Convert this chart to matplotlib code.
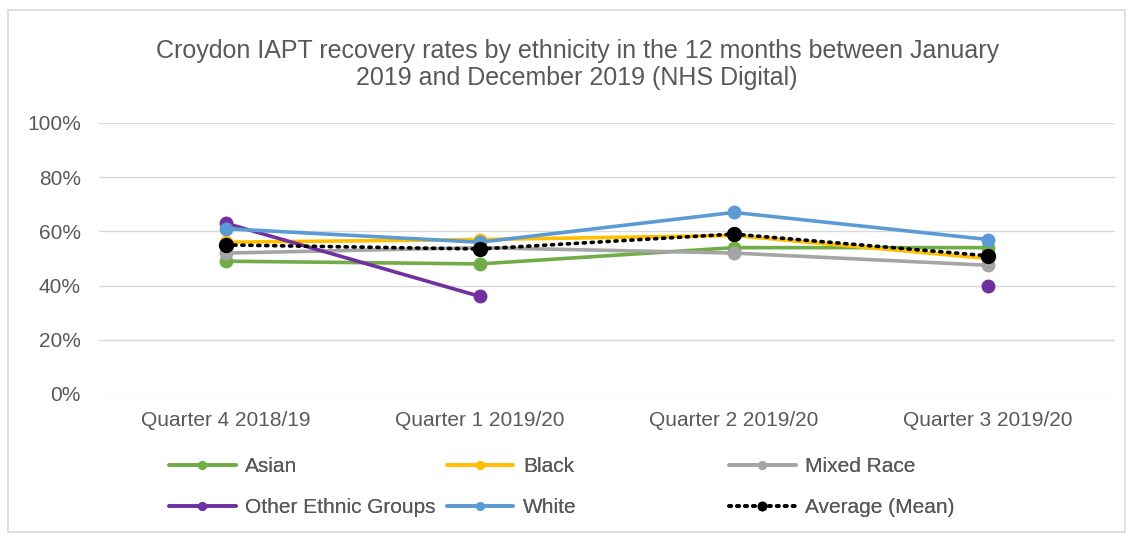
"""Croydon IAPT recovery rates by ethnicity, Jan-Dec 2019."""

import numpy as np
import matplotlib.pyplot as plt
from matplotlib.patches import Rectangle
from matplotlib.ticker import PercentFormatter

quarters = ["Quarter 4 2018/19", "Quarter 1 2019/20", "Quarter 2 2019/20", "Quarter 3 2019/20"]

asian = [49, 48, 54, 54]
black = [56, 57, 58.5, 50]
mixed_race = [52, 54, 52, 47.5]
other_ethnic = [63, 36, np.nan, 40]
white = [61, 56, 67, 57]
average = [55, 53.5, 59, 51]

GREY_TEXT = "#595959"
GRID = "#D9D9D9"


def main() -> None:
    plt.rcParams["font.family"] = ["Liberation Sans", "DejaVu Sans"]
    fig = plt.figure(figsize=(11.34, 5.37), dpi=100)
    ax = fig.add_axes([0.0873, 0.2663, 0.8957, 0.5047])

    x = np.arange(len(quarters))
    series = [
        ("Asian", asian, "#70AD47"),
        ("Black", black, "#FFC000"),
        ("Mixed Race", mixed_race, "#A5A5A5"),
        ("Other Ethnic Groups", other_ethnic, "#7030A0"),
        ("White", white, "#5B9BD5"),
    ]
    handles = {}
    for name, vals, col in series:
        (ln,) = ax.plot(x, np.array(vals) / 100, color=col, lw=2.6, marker="o",
                        ms=9, solid_capstyle="round")
        handles[name] = ln
    (avg,) = ax.plot(x, np.array(average) / 100, color="black", lw=2.6,
                     ls=(0, (0.6, 1.6)), dash_capstyle="round", marker="o", ms=10)
    handles["Average (Mean)"] = avg

    ax.set_xlim(-0.5, 3.5)
    ax.set_ylim(0, 1)
    ax.set_yticks(np.arange(0, 1.01, 0.2))
    ax.yaxis.set_major_formatter(PercentFormatter(1.0, decimals=0))
    ax.set_xticks(x)
    ax.set_xticklabels(quarters)
    ax.tick_params(length=0, labelsize=15, labelcolor=GREY_TEXT, pad=12)
    ax.tick_params(axis="y", pad=13)
    ax.grid(axis="y", color=GRID, lw=1)
    ax.set_axisbelow(True)
    for sp in ax.spines.values():
        sp.set_visible(False)

    fig.text(0.509, 0.88,
             "Croydon IAPT recovery rates by ethnicity in the 12 months between January\n"
             "2019 and December 2019 (NHS Digital)",
             ha="center", va="center", fontsize=18, color=GREY_TEXT, linespacing=1.2)

    # legend columns placed separately, like the Excel layout
    columns = [
        (["Asian", "Other Ethnic Groups"], 0.149),
        (["Black", "White"], 0.394),
        (["Mixed Race", "Average (Mean)"], 0.643),
    ]
    for names, xpos in columns:
        leg = fig.legend([handles[n] for n in names], names, loc="upper left",
                         bbox_to_anchor=(xpos, 0.149), frameon=False, fontsize=15,
                         handlelength=3.2, handletextpad=0.45, labelspacing=1.05,
                         markerscale=0.6, borderpad=0, borderaxespad=0)
        for t in leg.get_texts():
            t.set_color(GREY_TEXT)
        fig.add_artist(leg)

    fig.add_artist(Rectangle((0.007, 0.01), 0.985, 0.972, transform=fig.transFigure,
                             fill=False, edgecolor=GRID, lw=1.2))

    fig.savefig("out.png", dpi=100)
    plt.close(fig)


if __name__ == "__main__":
    main()
